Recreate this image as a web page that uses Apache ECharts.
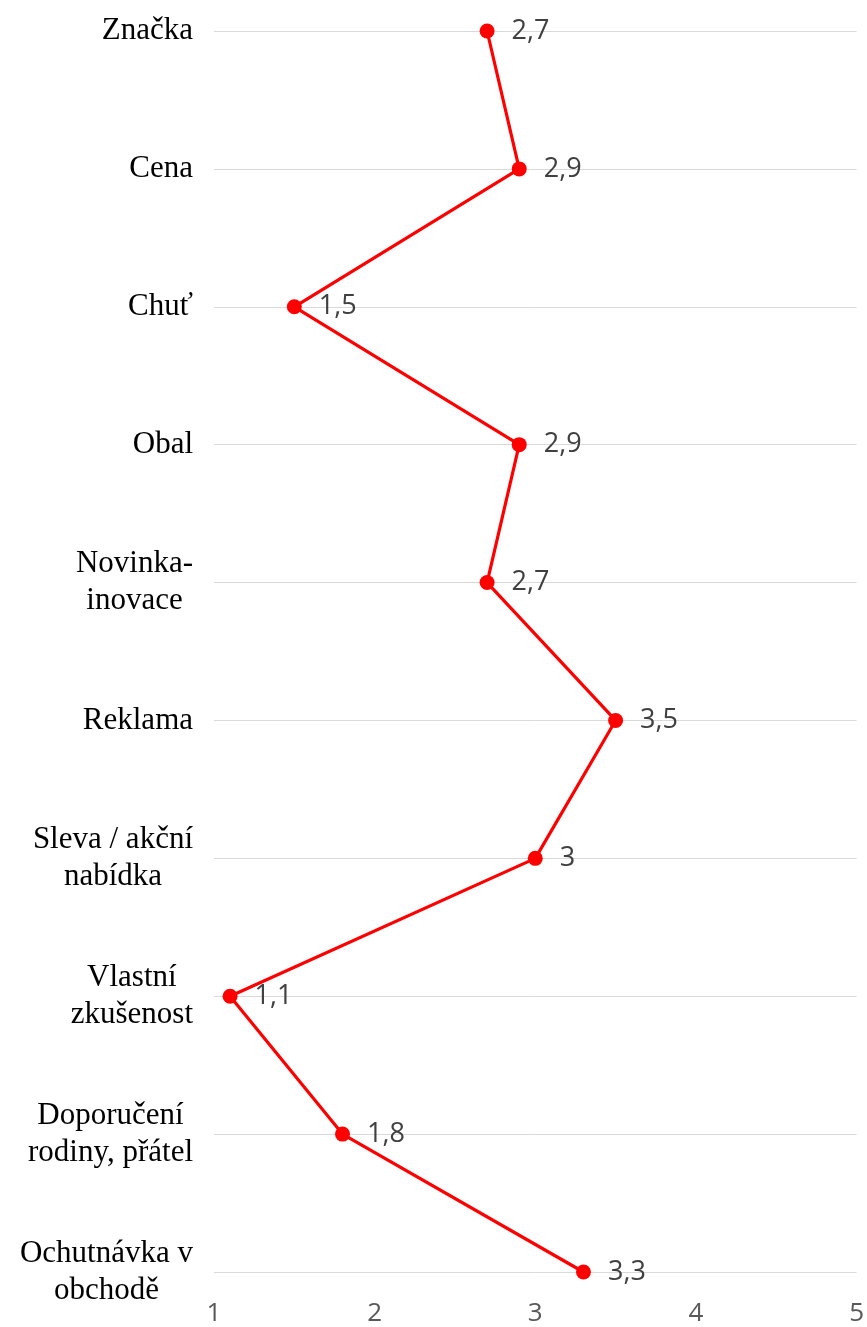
<!DOCTYPE html>
<html>
<head>
<meta charset="utf-8">
<script src="https://cdn.jsdelivr.net/npm/echarts@6/dist/echarts.min.js"></script>
<style>
  html, body { margin: 0; padding: 0; background: #fff; }
  #main { width: 867px; height: 1327px; }
</style>
</head>
<body>
<div id="main"></div>
<script>
const categories = [
  "Značka",
  "Cena",
  "Chuť",
  "Obal",
  "Novinka-\ninovace",
  "Reklama",
  "Sleva / akční\nnabídka",
  "Vlastní\nzkušenost",
  "Doporučení\nrodiny, přátel",
  "Ochutnávka v\nobchodě"
];
const values = [2.7, 2.9, 1.5, 2.9, 2.7, 3.5, 3, 1.1, 1.8, 3.3];
const valueTicks = [1, 2, 3, 4, 5];

const chart = echarts.init(document.getElementById("main"), null, { renderer: "canvas" });

const option = {
  animation: false,
  backgroundColor: "#fff",
  grid: { left: 214, right: 9, top: 31, bottom: 55, containLabel: false },
  xAxis: {
    type: "value",
    min: valueTicks[0],
    max: valueTicks[valueTicks.length - 1],
    interval: 1,
    axisLine: { show: false },
    axisTick: { show: false },
    splitLine: { show: false },
    axisLabel: {
      margin: 29,
      color: "#595959",
      fontFamily: "Open Sans",
      fontSize: 26
    }
  },
  yAxis: {
    type: "category",
    inverse: true,
    boundaryGap: false,
    data: categories,
    axisLine: { show: false },
    axisTick: { show: false },
    splitLine: { show: true, lineStyle: { color: "#d9d9d9", width: 1 } },
    axisLabel: {
      margin: 21,
      align: "right",
      formatter: (v) => v.split("\n").map((s) => "{c|" + s + "}").join("\n"),
      rich: {
        c: {
          align: "center",
          color: "#000",
          fontFamily: "Liberation Serif",
          fontSize: 31,
          lineHeight: 37
        }
      }
    }
  },
  series: [
    {
      type: "line",
      data: values.map((v, i) => [v, categories[i]]),
      symbol: "circle",
      symbolSize: 15,
      itemStyle: { color: "#ff0000" },
      lineStyle: { color: "#ff0000", width: 3.2 },
      label: {
        show: true,
        position: "right",
        distance: 17,
        color: "#404040",
        fontFamily: "Open Sans",
        fontSize: 27,
        formatter: (p) => String(p.value[0]).replace(".", ",")
      }
    }
  ]
};

chart.setOption(option);
window.addEventListener("resize", chart.resize);
</script>
</body>
</html>
